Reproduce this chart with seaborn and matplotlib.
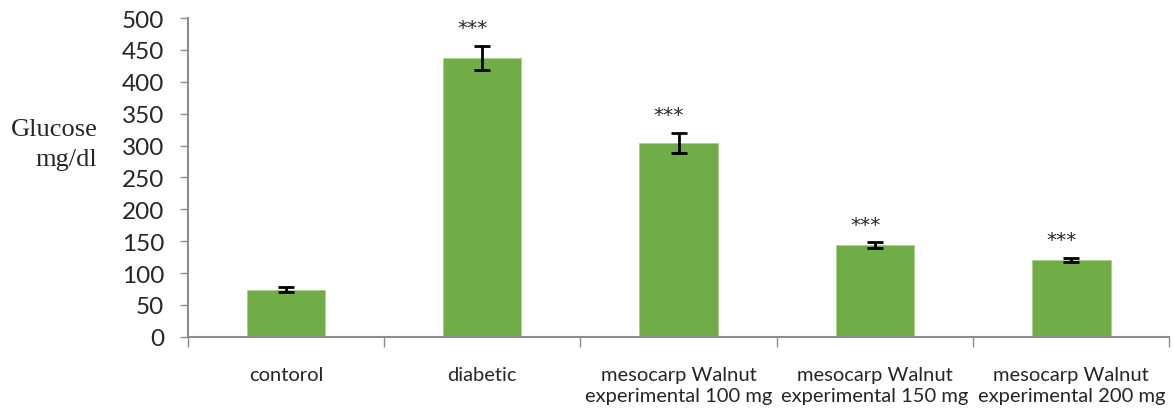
import matplotlib
matplotlib.use("Agg")
import matplotlib.pyplot as plt
import pandas as pd
import seaborn as sns

GROUPS = ["contorol", "diabetic", "mesocarp Walnut\nexperimental 100 mg",
          "mesocarp Walnut\nexperimental 150 mg", "mesocarp Walnut\nexperimental 200 mg"]
GLUCOSE = [74, 437, 304, 144, 120]
SEM = [4, 19, 16, 4, 3]
STARS = ["", "***", "***", "***", "***"]
YTICKS = [0, 50, 100, 150, 200, 250, 300, 350, 400, 450, 500]

GREEN = "#70AD47"
GREY = "#8c8c8c"

sns.set_theme(style="white")
plt.rcParams["font.family"] = ["Lato", "DejaVu Sans"]

df = pd.DataFrame({"group": GROUPS, "glucose": GLUCOSE})

fig = plt.figure(figsize=(11.73, 4.14), dpi=100)
ax = fig.add_axes([0.160, 0.184, 0.837, 0.770])
sns.barplot(df, x="group", y="glucose", color=GREEN, saturation=1, width=0.4,
            edgecolor="#a9d18e", linewidth=0.6, ax=ax)
ax.errorbar(range(len(GLUCOSE)), GLUCOSE, yerr=SEM, fmt="none", ecolor="black",
            elinewidth=2, capsize=6, capthick=2)
for i, (v, e, s) in enumerate(zip(GLUCOSE, SEM, STARS)):
    if s:
        ax.text(i - 0.05, v + e + 14, s, ha="center", va="bottom", fontsize=14.5,
                family=["DejaVu Sans"])

ax.set_xlim(-0.5, len(GROUPS) - 0.5)
ax.set_ylim(0, 500)
ax.set_yticks(YTICKS)
ax.set_xlabel("")
ax.set_ylabel("")
ax.tick_params(axis="y", labelsize=17.5, length=6, width=1, color=GREY, direction="out",
               left=True, pad=11)
ax.tick_params(axis="x", which="major", length=0, labelsize=14.5, pad=21)
ax.set_xticks([i - 0.5 for i in range(len(GROUPS) + 1)], minor=True)
ax.tick_params(axis="x", which="minor", length=7, width=1, color=GREY, bottom=True,
               direction="out")
for lab in ax.get_xticklabels():
    lab.set_verticalalignment("top")
    lab.set_linespacing(1.3)
for side in ("top", "right"):
    ax.spines[side].set_visible(False)
for side in ("left", "bottom"):
    ax.spines[side].set_color(GREY)
    ax.spines[side].set_linewidth(1.5)

fig.text(0.083, 0.65, "Glucose\nmg/dl", ha="right", va="center", fontsize=19,
         family=["Liberation Serif"], linespacing=1.5, multialignment="right")

fig.savefig("out.png", dpi=100)
